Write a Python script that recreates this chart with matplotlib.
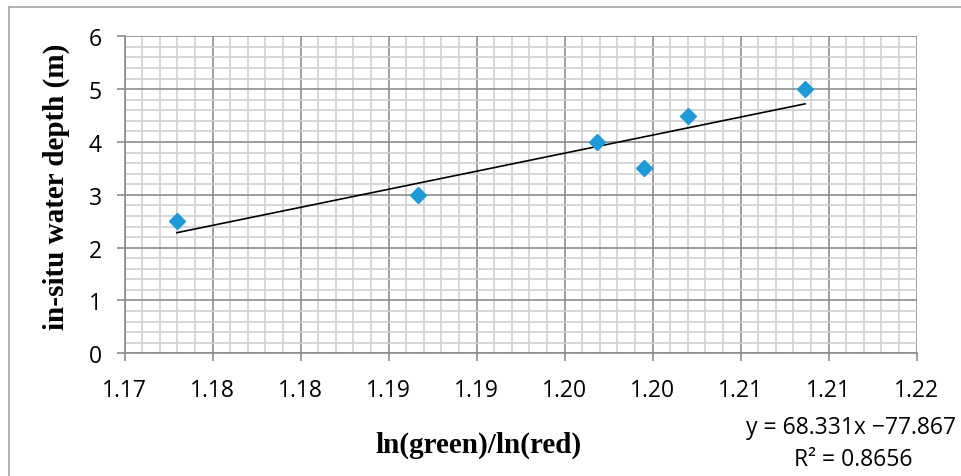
import matplotlib.pyplot as plt
import numpy as np
from matplotlib.lines import Line2D
from matplotlib.ticker import MultipleLocator, FuncFormatter

# Data
ratio = [1.17297, 1.18666, 1.19684, 1.19951, 1.20201, 1.20865]
depth = [2.5, 3.0, 4.0, 3.5, 4.5, 5.0]

# Trendline as printed on the chart
slope = 68.331
intercept = -77.867
r2 = 0.8656

fig = plt.figure(figsize=(9.62, 4.77), dpi=100)
ax = fig.add_axes([0.1296, 0.2572, 0.8233, 0.6646])

# grid
ax.set_xlim(1.17, 1.215)
ax.set_ylim(0, 6)
ax.xaxis.set_major_locator(MultipleLocator(0.005))
ax.xaxis.set_minor_locator(MultipleLocator(0.001))
ax.yaxis.set_major_locator(MultipleLocator(1))
ax.yaxis.set_minor_locator(MultipleLocator(0.2))
ax.grid(which='minor', color='#d0d0d0', linewidth=1.2)
ax.grid(which='major', color='#8c8c8c', linewidth=1.2)
ax.set_axisbelow(True)

# excel-like rounding of the tick labels (1.175 -> 1.18)
ax.xaxis.set_major_formatter(FuncFormatter(lambda v, p: f"{v + 1e-9:.2f}"))
ax.yaxis.set_major_formatter(FuncFormatter(lambda v, p: f"{v:.0f}"))

for s in ['top', 'right']:
    ax.spines[s].set_visible(False)
for s in ['left', 'bottom']:
    ax.spines[s].set_color('#8c8c8c')
    ax.spines[s].set_linewidth(1.2)

ax.tick_params(which='major', direction='out', length=5.5, width=1.2,
               color='#8c8c8c', labelsize=16.5, pad=12)
ax.tick_params(axis='y', pad=11)
ax.tick_params(which='minor', length=0)
for lab in ax.get_xticklabels() + ax.get_yticklabels():
    lab.set_family('Open Sans')

# points
ax.plot(ratio, depth, linestyle='none', marker='D', markersize=8.5,
        color='#1f9ad6', zorder=3, clip_on=False)

# trendline
xt = np.array([min(ratio), max(ratio)])
ax.plot(xt, slope * xt + intercept, color='black', linewidth=1.2, zorder=2)

# axis titles
fig.text(0.059, 0.608, 'in-situ water depth (m)', rotation=90, ha='center',
         va='center', family='Liberation Serif', fontweight='bold', fontsize=21)
fig.text(0.497, 0.066, 'ln(green)/ln(red)', ha='center', va='center',
         family='Liberation Serif', fontweight='bold', fontsize=21)

# equation
fig.text(0.885, 0.103, f'y = {slope}x \u2212{-intercept}', ha='center',
         va='center', family='Open Sans', fontsize=16.5)
fig.text(0.887, 0.035, f'R\u00b2 = {r2}', ha='center', va='center',
         family='Open Sans', fontsize=16.5)

# chart area border (partially visible)
fig.add_artist(Line2D([0.0094, 0.0094], [0.0, 0.983], color='#a6a6a6', lw=1.2))
fig.add_artist(Line2D([0.0094, 1.0], [0.983, 0.983], color='#a6a6a6', lw=1.2))

fig.savefig('out.png', dpi=100)
